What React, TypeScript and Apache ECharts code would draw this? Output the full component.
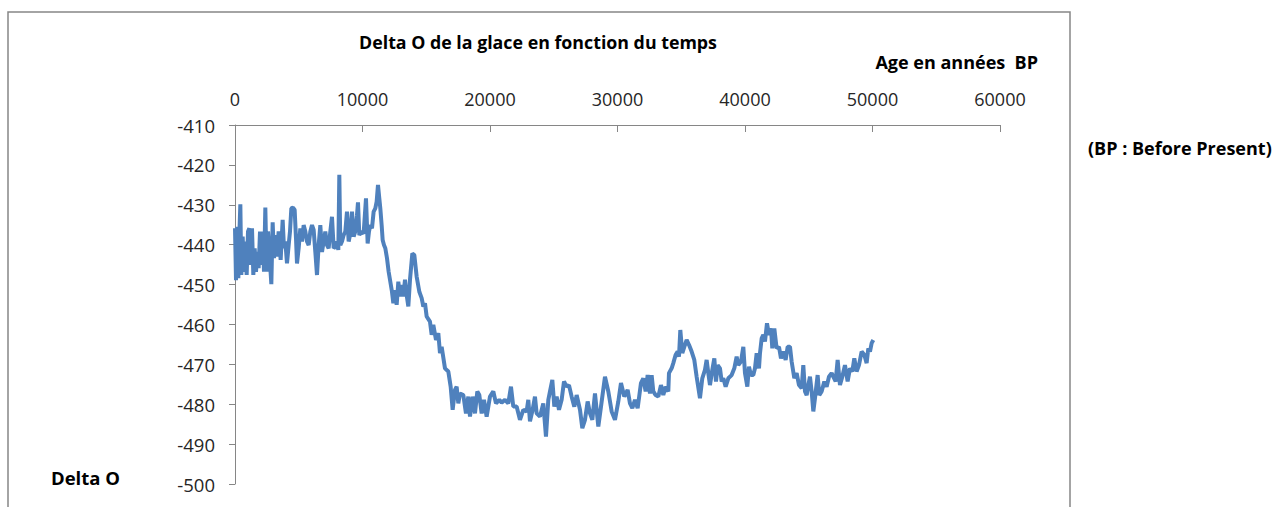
import React, { useEffect, useRef } from "react";
import * as echarts from "echarts";

const years: number[] = [
  0, 79, 183, 262, 340, 419, 497, 602, 706, 811, 915, 1020, 1124, 1229, 1333, 1438, 1543, 1647, 1752, 1856,
  1961, 2065, 2170, 2274, 2379, 2484, 2588, 2693, 2850, 2954, 3059, 3163, 3268, 3425, 3581, 3738, 3843, 3947,
  4078, 4209, 4313, 4418, 4549, 4679, 4784, 4862, 4993, 5124, 5254, 5385, 5516, 5647, 5777, 5908, 6039, 6169,
  6300, 6431, 6561, 6692, 6823, 6954, 7084, 7215, 7346, 7476, 7607, 7738, 7868, 7999, 8104, 8182, 8261, 8391,
  8522, 8653, 8783, 8914, 9045, 9175, 9306, 9437, 9568, 9646, 9751, 9907, 10090, 10273, 10404, 10509, 10613,
  10744, 10875, 11005, 11110, 11215, 11319, 11398, 11502, 11581, 11685, 11790, 11921, 12051, 12182, 12312,
  12418, 12548, 12679, 12810, 12940, 13071, 13202, 13333, 13463, 13594, 13725, 13908, 14064, 14247, 14457,
  14640, 14770, 14901, 15032, 15293, 15424, 15554, 15764, 15947, 16077, 16208, 16469, 16731, 16914, 17071,
  17254, 17384, 17515, 17646, 17907, 18116, 18299, 18430, 18639, 18822, 19005, 19162, 19345, 19528, 19737,
  19998, 20260, 20469, 20730, 20913, 21175, 21436, 21645, 21828, 22089, 22351, 22612, 22874, 23004, 23135,
  23344, 23527, 23658, 23919, 24181, 24390, 24573,
  24705, 24888, 25045, 25228, 25411, 25620, 25803, 26012, 26195, 26404, 26613, 26796, 27058, 27241, 27450,
  27659, 27842, 28025, 28234, 28496, 28705, 29018, 29280, 29541, 29802, 30064, 30273, 30534, 30796, 30979,
  31162, 31371, 31580, 31841, 32024, 32207, 32364, 32547, 32678, 32809, 32992, 33201, 33410, 33593, 33776,
  33985, 34037, 34246, 34377, 34560, 34717, 34822, 34926, 35083, 35240, 35423, 35606, 35815, 36024, 36207,
  36468, 36651, 36860, 36991, 37122, 37252, 37436,
  37594, 37725, 37855, 38038, 38169, 38300, 38483, 38692, 38953, 39162, 39345, 39476, 39685, 39868, 39999,
  40182, 40312, 40469, 40652, 40783, 40914, 41097, 41175, 41306, 41437, 41567, 41724, 41881, 42038, 42142,
  42299, 42482, 42665, 42822, 43005, 43188, 43345, 43528, 43658, 43868, 44051, 44234, 44443, 44573, 44704,
  44835, 44965, 45096, 45227, 45358, 45488, 45697, 45828, 46011, 46220, 46403, 46586, 46795, 46926, 47109,
  47266, 47449, 47632, 47841, 48050, 48233, 48416, 48573, 48756, 48939, 49148, 49357, 49540, 49671, 49802,
  49933, 50063,
];

const deltaO: number[] = [
  -435.9, -448.9, -435.5, -448.4, -437.6, -429.9, -447.6, -438.0, -446.8, -439.2, -447.6, -436.7, -435.9, -445.1,
  -435.9, -447.6, -440.9, -446.8, -441.8, -445.9, -436.7, -445.1, -436.7, -446.8, -430.7, -446.8, -436.7, -441.8,
  -449.9, -434.4, -443.4, -437.6, -443.0, -436.7, -443.8, -433.8, -440.9, -439.2, -444.7, -440.1, -436.7, -430.9,
  -430.7, -431.3, -438.4, -444.7, -440.9, -435.9, -439.2, -435.1, -436.7, -439.2, -440.1, -436.7, -435.1, -436.3,
  -441.8, -447.6, -440.1, -435.1, -441.8, -439.2, -436.7, -440.1, -440.9, -436.7, -433.0, -440.9, -440.5, -439.2,
  -441.3, -422.5, -440.1, -439.2, -437.6, -436.7, -431.7, -439.2, -437.2, -431.7, -438.0, -436.7, -432.6, -429.4,
  -437.6, -436.7, -437.2, -428.4, -439.7, -436.7, -435.1, -435.9, -431.7, -430.9, -429.2, -425.0, -428.4, -430.9,
  -435.1, -438.8, -440.1, -440.9, -443.4, -446.8, -449.3, -451.8,
  -454.7, -451.4, -455.1, -449.3, -453.0, -450.1, -453.0, -448.8, -452.6, -455.5, -448.8, -442.2, -442.6, -448.0,
  -451.8, -453.4, -455.5, -454.7, -458.0, -459.3, -462.6, -460.1, -463.9, -462.2, -467.2, -465.6, -471.0, -471.8,
  -475.6, -481.4, -476.4, -475.6, -479.8, -477.3, -477.7, -482.3, -478.1, -483.1, -478.1, -482.3, -476.8, -477.7,
  -482.3, -478.9, -483.1, -478.1, -476.8, -479.8, -478.9, -479.6, -478.9, -479.8, -475.6, -480.6, -480.6, -483.9,
  -481.4, -481.8, -478.9, -484.3, -481.4, -478.1, -482.3, -483.1, -479.8, -488.1, -478.9,
  -476.8, -473.9, -480.6, -478.1, -481.4, -478.9, -474.3, -475.6, -475.2, -478.1, -480.6, -477.7, -481.4, -486.0,
  -483.9, -479.3, -482.3, -483.9, -477.3, -485.6, -480.6, -473.1, -476.8, -481.8, -483.9, -479.3, -474.7, -478.1,
  -476.4, -479.8, -481.0, -478.9, -481.0, -474.7, -473.5, -476.8, -472.7, -477.3, -472.7, -476.8, -477.7, -478.1,
  -475.2, -477.7, -475.6, -476.8, -472.2, -471.0, -469.7, -467.6, -466.8, -468.1, -461.4, -467.2, -465.6, -463.9,
  -465.1, -466.8, -468.9, -473.1, -478.5, -473.5, -471.4, -468.9, -472.2, -475.2, -471.4,
  -468.5, -474.3, -470.2, -471.0, -474.3, -473.5, -475.6, -473.5, -472.7, -471.0, -468.1, -470.2, -469.3, -465.6,
  -472.2, -475.6, -470.6, -472.7, -472.7, -471.0, -467.2, -471.0, -467.2, -463.5, -462.6, -464.3, -459.7, -462.6,
  -461.0, -466.0, -461.0, -466.0, -465.6, -468.5, -466.8, -468.9, -465.6, -465.6, -469.3, -473.5, -472.2, -475.2,
  -476.0, -470.2, -476.8, -477.7, -475.2, -473.1, -476.8, -481.8, -478.5, -472.7, -477.7, -476.8, -474.3, -475.6,
  -473.1, -472.2, -473.1, -474.3, -468.9, -475.2, -473.1, -470.2, -474.3, -471.0, -471.8, -468.5, -471.8, -470.2,
  -466.8, -467.6, -469.7, -466.0, -466.8, -464.7, -463.9,
];

const xTicks = { min: 0, max: 60000, step: 10000 };
const yTicks = { min: -500, max: -410, step: 10 };

const chartTitle = "Delta O de la glace en fonction du temps";
const xAxisTitle = "Age en années  BP";
const yAxisTitle = "Delta O";
const noteText = "(BP : Before Present)";

const FONT = "'Open Sans', 'Noto Sans', sans-serif";

export default function App() {
  const ref = useRef<HTMLDivElement>(null);
  useEffect(() => {
    document.body.style.margin = "0";
    if (!ref.current) return;
    const chart = echarts.init(ref.current, undefined, { renderer: "svg" });
    const seriesData = years.map((y, i) => [y, deltaO[i]]);
    const boldText = (text: string, x: number, y: number, size: number, align: string) => ({
      type: "text",
      x,
      y,
      style: {
        text,
        fontSize: size,
        fontWeight: "bold",
        fontFamily: FONT,
        fill: "#000",
        align,
        verticalAlign: "middle",
      },
    });
    chart.setOption({
      animation: false,
      backgroundColor: "#ffffff",
      grid: { left: 235, top: 125, width: 765, height: 359, containLabel: false },
      xAxis: {
        type: "value",
        position: "top",
        min: xTicks.min,
        max: xTicks.max,
        interval: xTicks.step,
        axisLine: { show: true, onZero: false, lineStyle: { color: "#868686", width: 1 } },
        axisTick: { show: true, inside: true, length: 7, lineStyle: { color: "#868686" } },
        axisLabel: {
          color: "#262626",
          fontSize: 18,
          fontFamily: FONT,
          margin: 17,
          formatter: (v: number) => String(v),
        },
        splitLine: { show: false },
      },
      yAxis: {
        type: "value",
        min: yTicks.min,
        max: yTicks.max,
        interval: yTicks.step,
        axisLine: { show: true, onZero: false, lineStyle: { color: "#868686", width: 1 } },
        axisTick: { show: true, length: 6, lineStyle: { color: "#868686" } },
        axisLabel: {
          color: "#262626",
          fontSize: 18.5,
          fontFamily: FONT,
          margin: 20,
          formatter: (v: number) => String(v),
        },
        splitLine: { show: false },
      },
      series: [
        {
          type: "line",
          data: seriesData,
          showSymbol: false,
          symbol: "none",
          lineStyle: { color: "#4F81BD", width: 4 },
          itemStyle: { color: "#4F81BD" },
        },
      ],
      graphic: [
        {
          type: "rect",
          shape: { x: 8, y: 12, width: 1062, height: 540 },
          style: { fill: "none", stroke: "#868686", lineWidth: 1.5 },
          silent: true,
        },
        boldText(chartTitle, 538, 42, 17.8, "center"),
        boldText(xAxisTitle, 1038, 62, 18, "right"),
        boldText(noteText, 1088, 148, 18, "left"),
        boldText(yAxisTitle, 51, 477, 18.5, "left"),
      ],
    });
    return () => chart.dispose();
  }, []);
  return <div ref={ref} style={{ width: 1276, height: 507 }} />;
}
